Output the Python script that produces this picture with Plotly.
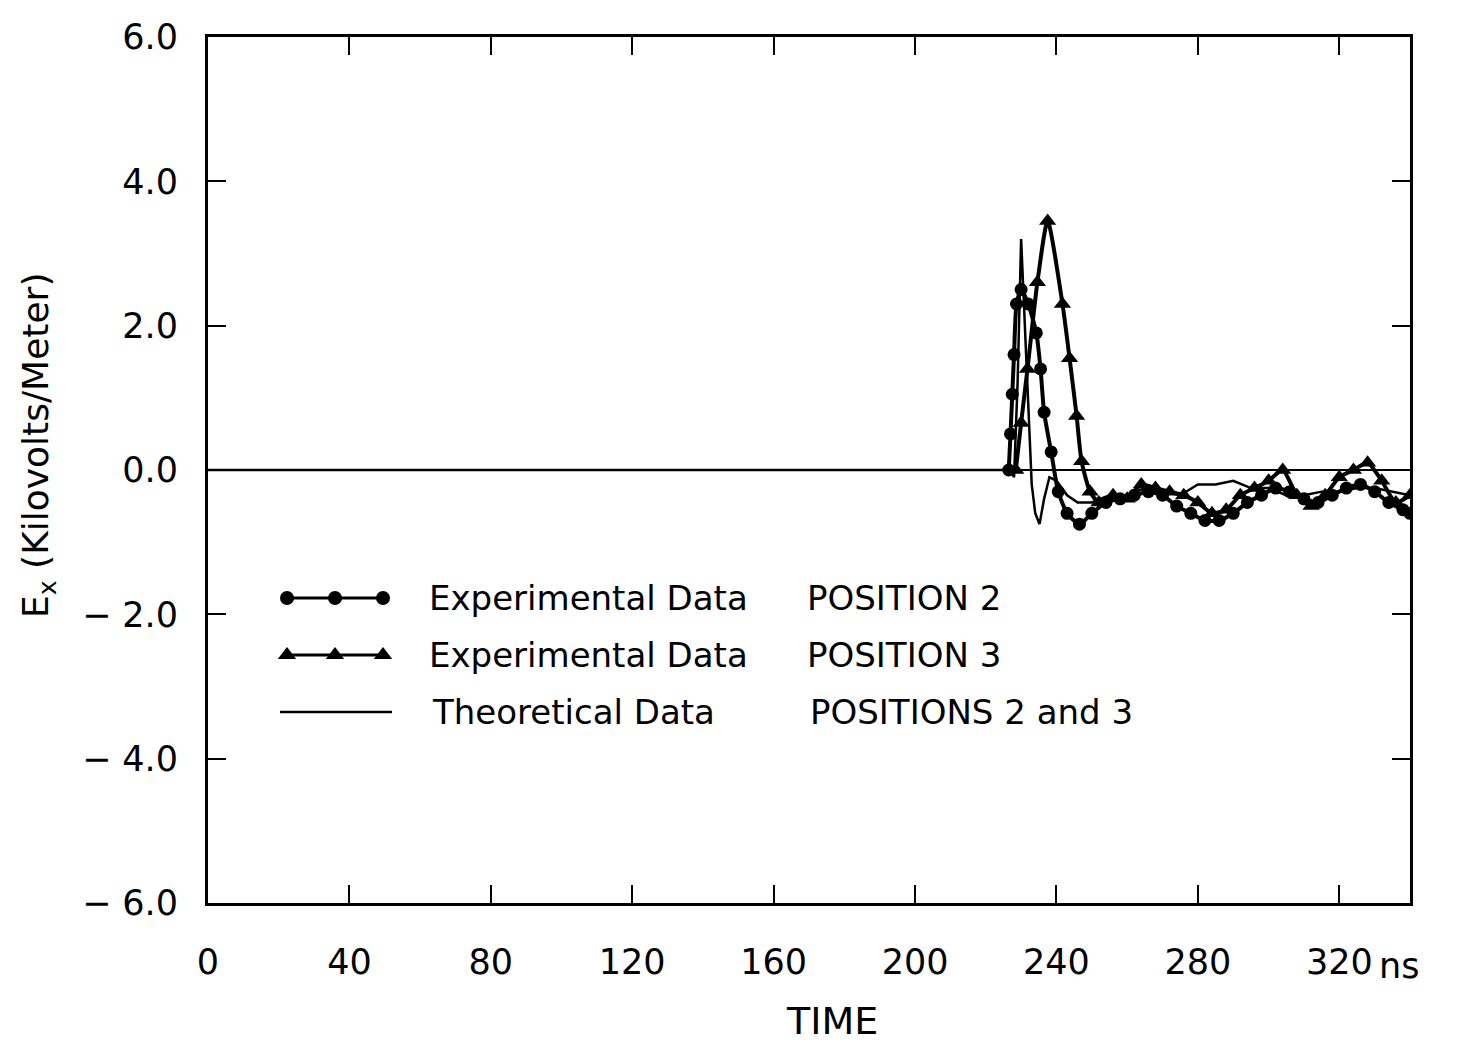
import plotly.graph_objects as go

# ---- data ----
pos2_t = [226.5, 227.0, 227.5, 228.0, 228.7, 230.0, 232.0, 234.3, 235.5, 236.5, 238.5, 240.5,
          243.0, 246.5, 250.0, 254.0, 258.0, 262.0, 266.0, 270.0, 274.0, 278.0, 282.0, 286.0,
          290.0, 294.0, 298.0, 302.0, 306.0, 310.0, 314.0, 318.0, 322.0, 326.0, 330.0, 334.0,
          338.0, 340.0]
pos2_v = [0.0, 0.5, 1.05, 1.6, 2.3, 2.5, 2.3, 1.9, 1.4, 0.8, 0.25, -0.3,
          -0.6, -0.75, -0.6, -0.45, -0.4, -0.35, -0.3, -0.35, -0.5, -0.6, -0.7, -0.7,
          -0.6, -0.45, -0.35, -0.25, -0.3, -0.4, -0.45, -0.35, -0.25, -0.2, -0.3, -0.45,
          -0.55, -0.6]

pos3_t = [228.5, 230.0, 231.8, 234.6, 237.5, 241.7, 243.7, 245.7, 247.1, 249.5, 252.0, 256.0,
          260.0, 264.0, 268.0, 272.0, 276.0, 280.0, 284.0, 288.0, 292.0, 296.0, 300.0, 304.0,
          308.0, 312.0, 316.0, 320.0, 324.0, 328.0, 332.0, 336.0, 340.0]
pos3_v = [0.0, 0.65, 1.4, 2.6, 3.45, 2.3, 1.55, 0.75, 0.12, -0.3, -0.45, -0.35,
          -0.4, -0.2, -0.25, -0.3, -0.35, -0.45, -0.6, -0.55, -0.35, -0.25, -0.15, 0.0,
          -0.35, -0.5, -0.35, -0.1, 0.0, 0.1, -0.15, -0.45, -0.35]

theo_t = [0, 227, 228, 229, 230, 231, 232, 233, 234, 235.2, 236.5, 238, 240, 243, 246, 250,
          255, 260, 265, 270, 275, 280, 285, 290, 295, 300, 305, 310, 315, 320, 325, 330,
          335, 340]
theo_v = [0, 0, -0.1, 1.2, 3.2, 2.0, 0.8, -0.2, -0.6, -0.75, -0.4, -0.1, -0.15, -0.35,
          -0.45, -0.45, -0.35, -0.35, -0.25, -0.3, -0.35, -0.2, -0.2, -0.15, -0.25, -0.25,
          -0.35, -0.35, -0.3, -0.3, -0.25, -0.25, -0.3, -0.35]

x_ticks = [0, 40, 80, 120, 160, 200, 240, 280, 320]
x_ticktext = ["0", "40", "80", "120", "160", "200", "240", "280", "320"]
y_ticks = [6, 4, 2, 0, -2, -4, -6]
y_ticktext = ["6.0", "4.0", "2.0", "0.0", "\u2212 2.0", "\u2212 4.0", "\u2212 6.0"]

legend_rows = [
    ("Experimental Data", "POSITION 2", "circle"),
    ("Experimental Data", "POSITION 3", "triangle-up"),
    ("Theoretical Data", "POSITIONS 2 and 3", None),
]

# ---- figure ----
FONT = "DejaVu Sans, Verdana, sans-serif"
W, H = 1463, 1042
L, R, T, B = 208, 53, 37, 139
PW, PH = W - L - R, H - T - B

def px(x):
    return (x - L) / PW

def py(y):
    return (T + PH - y) / PH

fig = go.Figure()

fig.add_trace(go.Scatter(x=theo_t, y=theo_v, mode="lines",
                         line=dict(color="black", width=2.5), showlegend=False))
fig.add_trace(go.Scatter(x=pos2_t, y=pos2_v, mode="lines+markers",
                         line=dict(color="black", width=4, shape="spline", smoothing=0.6),
                         marker=dict(symbol="circle", size=13, color="black"),
                         showlegend=False))
fig.add_trace(go.Scatter(x=pos3_t, y=pos3_v, mode="lines+markers",
                         line=dict(color="black", width=4, shape="spline", smoothing=0.6),
                         marker=dict(symbol="triangle-up", size=15, color="black"),
                         showlegend=False))

# hand-drawn style legend on an overlay axis in paper-like units
row_y = [598, 655, 712]
for (lab1, lab2, sym), yy in zip(legend_rows, row_y):
    if sym:
        fig.add_trace(go.Scatter(x=[px(287), px(335), px(383)], y=[py(yy)] * 3,
                                 xaxis="x2", yaxis="y2", mode="lines+markers",
                                 line=dict(color="black", width=3),
                                 marker=dict(symbol=sym, size=14 if sym == "circle" else 16,
                                             color="black"),
                                 showlegend=False, hoverinfo="skip"))
    else:
        fig.add_trace(go.Scatter(x=[px(280), px(392)], y=[py(yy)] * 2,
                                 xaxis="x2", yaxis="y2", mode="lines",
                                 line=dict(color="black", width=2.5),
                                 showlegend=False, hoverinfo="skip"))
    x1 = 427 if sym else 430
    x2 = 805 if sym else 808
    fig.add_annotation(x=px(x1), y=py(yy), xref="paper", yref="paper", text=lab1,
                       showarrow=False, xanchor="left", yanchor="middle",
                       font=dict(family=FONT, size=34, color="black"))
    fig.add_annotation(x=px(x2), y=py(yy), xref="paper", yref="paper", text=lab2,
                       showarrow=False, xanchor="left", yanchor="middle",
                       font=dict(family=FONT, size=34, color="black"))

fig.add_annotation(x=px(1377), y=py(966), xref="paper", yref="paper", text="ns",
                   showarrow=False, xanchor="left", yanchor="middle",
                   font=dict(family=FONT, size=35, color="black"))
fig.add_annotation(x=px(832), y=py(1021), xref="paper", yref="paper", text="TIME",
                   showarrow=False, xanchor="center", yanchor="middle",
                   font=dict(family=FONT, size=38, color="black"))
fig.add_annotation(x=px(38), y=py(445), xref="paper", yref="paper",
                   text="E<sub>x</sub> (Kilovolts/Meter)", textangle=-90,
                   showarrow=False, xanchor="center", yanchor="middle",
                   font=dict(family=FONT, size=36, color="black"))

axis_common = dict(showgrid=False, showline=True, linecolor="black", linewidth=3,
                   mirror="allticks", ticks="inside", ticklen=18, tickwidth=2,
                   tickcolor="black", tickfont=dict(family=FONT, size=35, color="black"))

fig.update_layout(
    width=W, height=H,
    margin=dict(l=L, r=R, t=T, b=B),
    paper_bgcolor="white", plot_bgcolor="white",
    xaxis=dict(range=[0, 340], tickvals=x_ticks, ticktext=x_ticktext,
               zeroline=False, ticklabelstandoff=26, **axis_common),
    yaxis=dict(range=[-6, 6], tickvals=y_ticks, ticktext=y_ticktext,
               zeroline=True, zerolinecolor="black", zerolinewidth=2,
               ticklabelstandoff=20, **axis_common),
    xaxis2=dict(range=[0, 1], overlaying="x", visible=False, fixedrange=True),
    yaxis2=dict(range=[0, 1], overlaying="y", visible=False, fixedrange=True),
    showlegend=False,
)

fig.write_html("out.html")
